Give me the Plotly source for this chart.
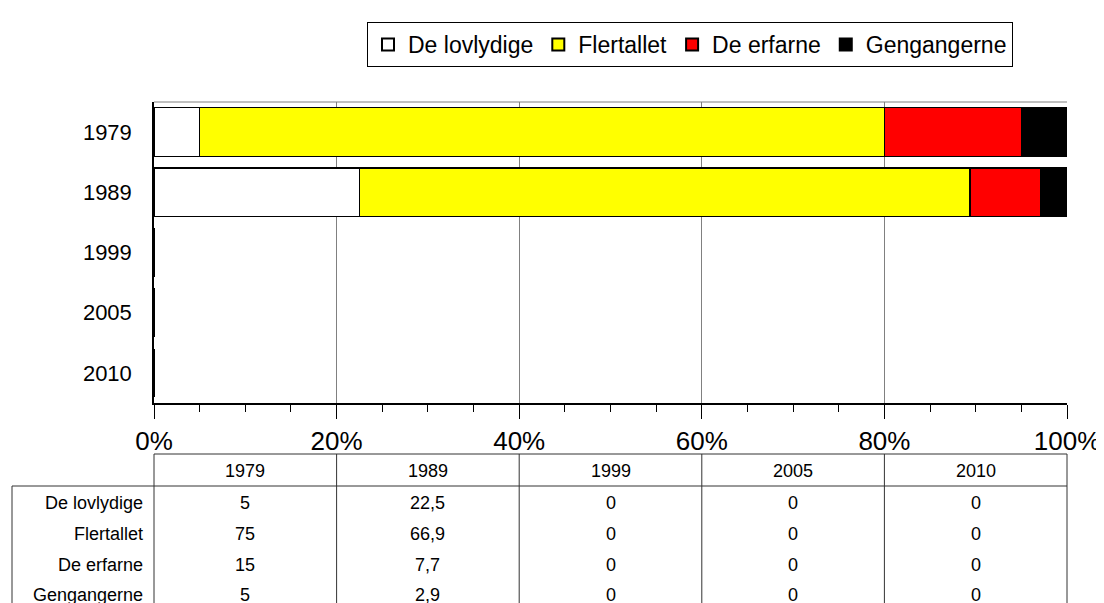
import plotly.graph_objects as go

# ---- data ----
years = ["1979", "1989", "1999", "2005", "2010"]
series_names = ["De lovlydige", "Flertallet", "De erfarne", "Gengangerne"]
de_lovlydige = [5, 22.5, 0, 0, 0]
flertallet = [75, 66.9, 0, 0, 0]
de_erfarne = [15, 7.7, 0, 0, 0]
gengangerne = [5, 2.9, 0, 0, 0]
x_ticks = [0, 20, 40, 60, 80, 100]
x_tick_labels = ["0%", "20%", "40%", "60%", "80%", "100%"]

series_values = [de_lovlydige, flertallet, de_erfarne, gengangerne]
colors = ["#FFFFFF", "#FFFF00", "#FF0000", "#000000"]

FONT = "Liberation Sans, Arial, sans-serif"
# page body has an 8px margin: figure is drawn offset by (8, 8) in the window
OFF = 8
W, H = 1104 - OFF, 603 - OFF
PLOT_L, PLOT_R, PLOT_T, PLOT_B = 154, 1067, 102, 403   # window pixels
L = PLOT_L - OFF
T = PLOT_T - OFF
R = 1104 - PLOT_R
B = 603 - PLOT_B
PW = PLOT_R - PLOT_L
PH = PLOT_B - PLOT_T


def px(X):
    return (X - PLOT_L) / PW


def py(Y):
    return (PLOT_B - Y) / PH


fig = go.Figure()
for name, vals, col in zip(series_names, series_values, colors):
    fig.add_trace(go.Bar(
        y=years, x=vals, name=name, orientation="h",
        marker=dict(color=col, line=dict(color="#000000", width=1.5)),
        width=0.81,
    ))

shapes = []
annotations = []

# top border of plot area
shapes.append(dict(type="line", xref="paper", yref="paper", x0=0, x1=1, y0=1, y1=1,
                   line=dict(color="#808080", width=1)))

# ---- data table ----
line_col = "#333333"
n = len(years)
col_w = PW / n
col_edges = [PLOT_L + k * col_w for k in range(n + 1)]
header_top, header_bot = 454, 486
table_bottom = 640
table_left = 12
shapes.append(dict(type="line", xref="paper", yref="paper", x0=px(PLOT_L), x1=px(PLOT_R),
                   y0=py(header_top), y1=py(header_top), line=dict(color=line_col, width=1)))
shapes.append(dict(type="line", xref="paper", yref="paper", x0=px(table_left), x1=px(PLOT_R),
                   y0=py(header_bot), y1=py(header_bot), line=dict(color=line_col, width=1)))
shapes.append(dict(type="line", xref="paper", yref="paper", x0=px(table_left), x1=px(table_left),
                   y0=py(header_bot), y1=py(table_bottom), line=dict(color=line_col, width=1)))
for xe in col_edges:
    shapes.append(dict(type="line", xref="paper", yref="paper", x0=px(xe), x1=px(xe),
                       y0=py(header_top), y1=py(table_bottom), line=dict(color=line_col, width=1)))

tfont = dict(family=FONT, size=18, color="#000000")
for k, yr in enumerate(years):
    cx = PLOT_L + (k + 0.5) * col_w
    annotations.append(dict(x=px(cx), y=py(471), xref="paper", yref="paper", text=yr,
                            showarrow=False, xanchor="center", yanchor="middle", font=tfont))

row_ys = [503, 534, 565, 595]


def fmt(v):
    if float(v).is_integer():
        return str(int(v))
    return str(v).replace(".", ",")


for r, (name, vals) in enumerate(zip(series_names, series_values)):
    annotations.append(dict(x=px(145), y=py(row_ys[r]), xref="paper", yref="paper", text=name,
                            showarrow=False, xanchor="right", yanchor="middle", font=tfont))
    for k, v in enumerate(vals):
        cx = PLOT_L + (k + 0.5) * col_w
        annotations.append(dict(x=px(cx), y=py(row_ys[r]), xref="paper", yref="paper",
                                text=fmt(v), showarrow=False, xanchor="center",
                                yanchor="middle", font=tfont))

fig.update_layout(
    width=W, height=H,
    margin=dict(l=L, r=R, t=T, b=B, pad=0, autoexpand=False),
    paper_bgcolor="#FFFFFF", plot_bgcolor="#FFFFFF",
    barmode="stack", bargap=0.19,
    font=dict(family=FONT, color="#000000"),
    showlegend=True,
    legend=dict(orientation="h", x=px(690), xanchor="center", y=py(22), yanchor="top",
                bordercolor="#000000", borderwidth=1, bgcolor="#FFFFFF",
                font=dict(family=FONT, size=23, color="#000000"),
                traceorder="normal", itemsizing="constant"),
    xaxis=dict(range=[0, 100], tickvals=x_ticks, ticktext=x_tick_labels,
               showgrid=True, gridcolor="#808080", gridwidth=1,
               showline=True, linecolor="#000000", linewidth=1.5,
               ticks="outside", ticklen=14, tickcolor="#000000", tickwidth=1,
               minor=dict(dtick=5, ticks="outside", ticklen=7, tickcolor="#000000", showgrid=False),
               tickfont=dict(family=FONT, size=26, color="#000000"),
               zeroline=False, fixedrange=True, automargin=False),
    yaxis=dict(categoryorder="array", categoryarray=years, autorange="reversed",
               showline=True, linecolor="#000000", linewidth=1.5,
               showgrid=False, ticks="", ticklabelstandoff=16,
               tickfont=dict(family=FONT, size=22, color="#000000"),
               fixedrange=True, automargin=False),
    shapes=shapes,
    annotations=annotations,
)

fig.write_html("out.html")
